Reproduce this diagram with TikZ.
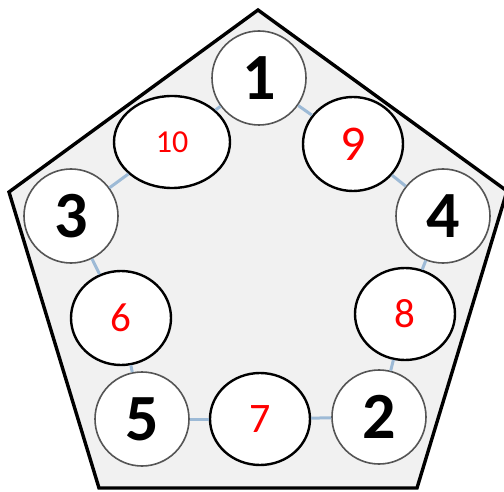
\documentclass[tikz,border=0pt]{standalone}
\usepackage{fontspec}
\setmainfont{Carlito}
\usepackage{xcolor}
\usetikzlibrary{shapes.geometric}
\definecolor{penfill}{HTML}{F1F1F1}
\definecolor{ringgray}{HTML}{555555}
\definecolor{linkblue}{HTML}{9DBAD6}
\definecolor{numred}{HTML}{FF0000}

\tikzset{
  seat/.style={circle, draw=ringgray, line width=1.6pt, fill=white, minimum size=94pt, inner sep=0pt,
    font=\bfseries\fontsize{66}{66}\selectfont, text=black},
  slot/.style={ellipse, draw=black, line width=2.4pt, fill=white, inner sep=0pt,
    text=numred},
  link/.style={linkblue, line width=3pt}
}

\begin{document}
\begin{tikzpicture}[x=1pt,y=1pt]
  \useasboundingbox (0,0) rectangle (504,491);
  \filldraw[fill=penfill, draw=black, line width=3.4pt, line join=miter]
    (258,481) -- (507,300) -- (417,3) -- (99,3) -- (9,299) -- cycle;

  \node[seat] (n1) at (259,413) {1};
  \node[seat] (n3) at (71,275) {3};
  \node[seat] (n4) at (443,275) {4};
  \node[seat] (n5) at (142,72) {5};
  \node[seat] (n2) at (379,74) {2};

  \node[slot, minimum width=116pt, minimum height=92pt, font=\fontsize{32}{32}\selectfont] (s10) at (172,349) {10};
  \node[slot, minimum width=100pt, minimum height=94pt, font=\fontsize{50}{50}\selectfont] (s9) at (353,347) {9};
  \node[slot, minimum width=100pt, minimum height=94pt, font=\fontsize{41}{41}\selectfont] (s6) at (121,173) {6};
  \node[slot, minimum width=100pt, minimum height=92pt, font=\fontsize{41}{41}\selectfont] (s8) at (405,177) {8};
  \node[slot, minimum width=100pt, minimum height=92pt, font=\fontsize{42}{42}\selectfont] (s7) at (260,72) {7};

  \draw[link] (n1) -- (s10);
  \draw[link] (s10) -- (n3);
  \draw[link] (n3) -- (s6);
  \draw[link] (s6) -- (n5);
  \draw[link] (n5) -- (s7);
  \draw[link] (s7) -- (n2);
  \draw[link] (n2) -- (s8);
  \draw[link] (s8) -- (n4);
  \draw[link] (n4) -- (s9);
  \draw[link] (s9) -- (n1);
\end{tikzpicture}
\end{document}
